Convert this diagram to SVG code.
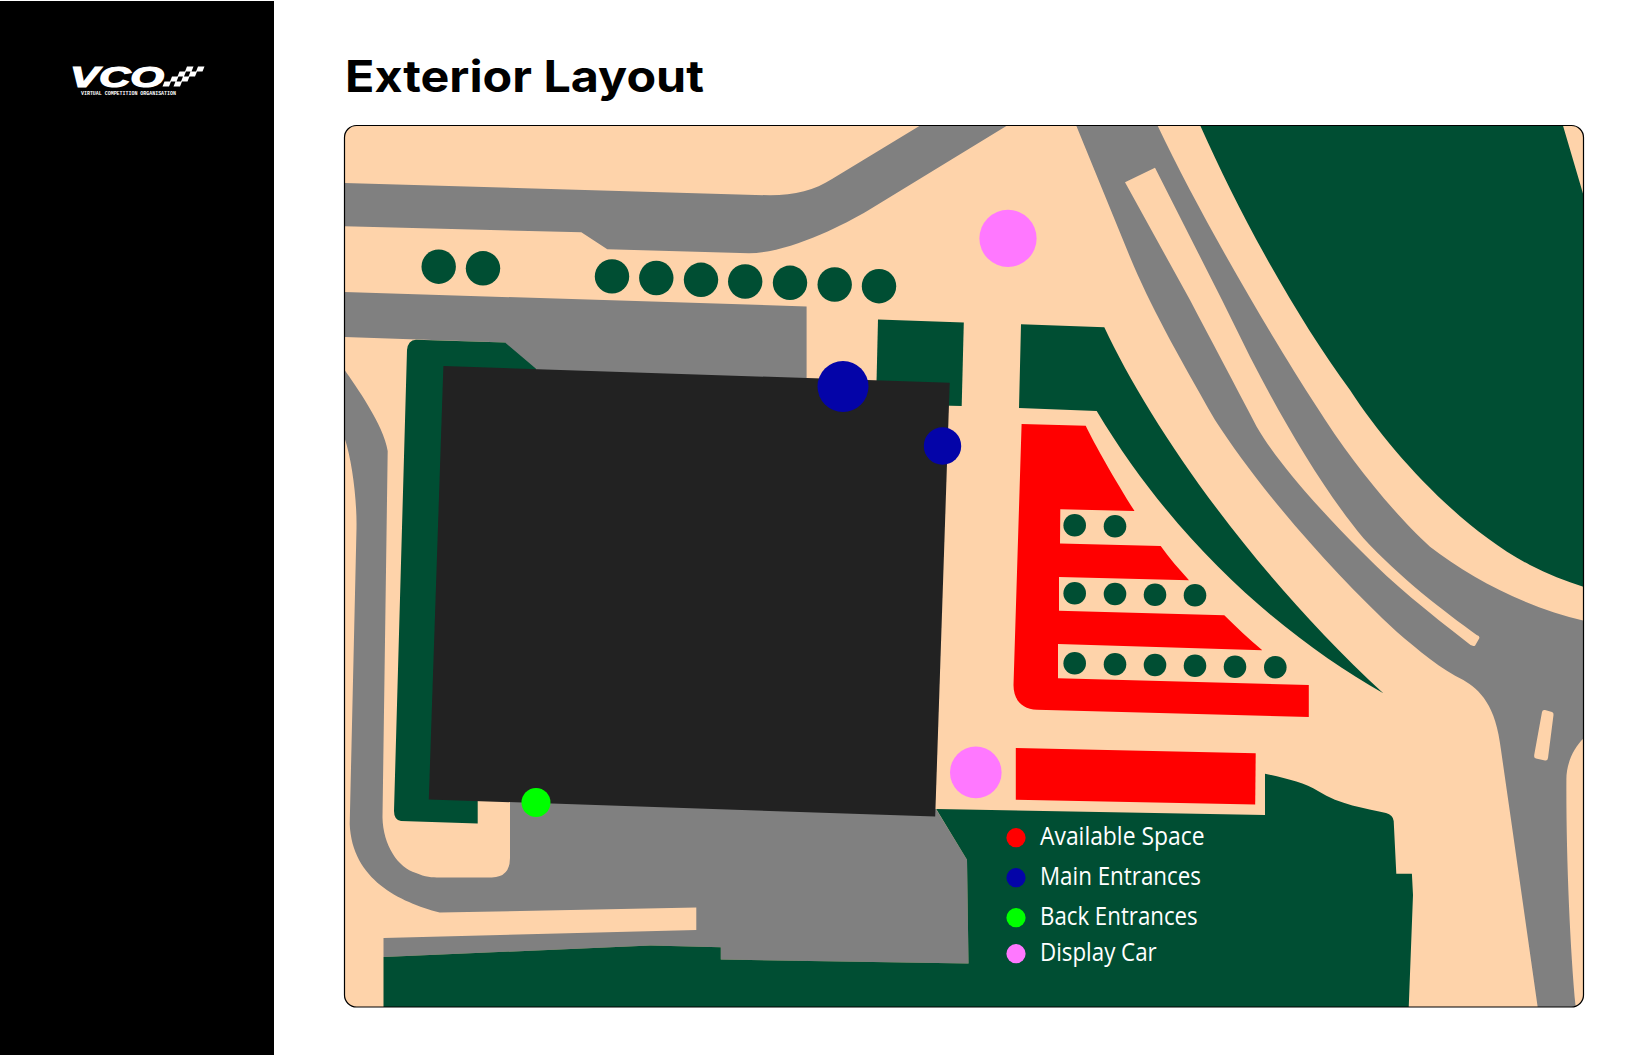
<svg xmlns="http://www.w3.org/2000/svg" width="1632" height="1056" viewBox="0 0 1632 1056">
  <style>
    .peach{fill:#fed3aa}.road{fill:#808080}.green{fill:#004e33}.red{fill:#ff0000}.blue{fill:#0404a8}.lime{fill:#00ff00}.pink{fill:#ff78ff}
    .legend{font-family:"Open Sans","Liberation Sans",sans-serif;font-size:25.500px;fill:#fff}
  </style>
  <defs><clipPath id="panelClip"><rect x="344.500" y="125.500" width="1239" height="881.500" rx="12"/></clipPath></defs>
  <rect width="1632" height="1056" fill="#fff"/>
  <rect id="sidebar" x="0" y="1" width="274" height="1054" fill="#000"/>
  <g id="logo" fill="#fff">
    <text x="70" y="86.500" font-family="'Liberation Sans',sans-serif" font-weight="700" font-style="italic" font-size="29" textLength="94" lengthAdjust="spacingAndGlyphs" stroke="#fff" stroke-width="1.200">VCO</text>
    <text x="81" y="94.500" font-family="'Liberation Mono',monospace" font-weight="700" font-size="5" textLength="95" lengthAdjust="spacing">VIRTUAL COMPETITION ORGANISATION</text>
    <path d="M187 66.500h6.500l-2 5h-6.500zM198 66.500h6.500l-2 5h-6.500zM179.500 71.500h6.500l-2 5h-6.500zM190.500 71.500h6.500l-2 5h-6.500zM172 76.500h6.500l-2 5h-6.500zM183 76.500h6.500l-2 5h-6.500zM164.500 81.500h6.500l-2 5h-6.500zM175.500 81.500h6.500l-2 5h-6.500z"/>
  </g>
  <text id="title" x="345" y="91.500" font-family="Inter,'Liberation Sans',sans-serif" font-weight="700" font-size="44" textLength="359" lengthAdjust="spacingAndGlyphs" fill="#000">Exterior Layout</text>
  <g id="site" clip-path="url(#panelClip)">
    <rect class="peach" x="344" y="125" width="1240" height="883"/>
    <path id="road-top" class="road" d="M344.500 183L770 195.300C795 195 815 190 832 179L921 125L1008 125L868 210.400C842 226 787 253 749 253.200L607.300 249.200L581.300 232.300L344.500 226.300Z"/>
    <path id="road-mid" class="road" d="M344.500 292L806.600 306.400L806.600 390L505 380L505 342.400L344.500 337Z"/>
    <path id="road-south" class="road" d="M344.500 369.700C355 385 384 425 387.700 451L382.500 817.600C383 845 398 868 416 873C425 877 432 877.500 439.700 877.500L491.800 877.500Q510 877 510 858L510 790L936 809L967 859.700L968.500 963.400L720.800 959.600L720.800 947.200L650.500 945.500L383.500 957L383.500 938L696.300 930L696.300 907.500L439.700 912.500C400 902 352 880 349.700 824L356.500 528C357 500 352 460 344.500 437.700Z"/>
    <path id="road-east" class="road" d="M1076 125L1130 257C1150 305 1175 350 1215 420C1260 490 1335 575 1396.700 631.700C1418 650 1442 670 1463.300 680C1480 690 1496 705 1501 750L1510.700 817.600L1537.800 1008L1575.800 1008C1570 950 1566 850 1566.400 780.500C1566 765 1573 748 1584 738L1584 620.700C1530 609 1470 578 1430 546.700C1395 515 1350 460 1316.700 406.700C1270 335 1200 215 1157.300 125Z"/>
    <path id="island-long" class="peach" d="M1155 167.700L1125 182.300L1190 300C1210 338 1235 385 1256.700 426.700C1275 458 1310 500 1363.300 553.300C1392 583 1428 612 1468.300 643.300Q1472 647 1475 645.700L1479.300 638.300Q1480 636 1476.700 635C1445 612 1400 578 1363.300 538C1325 492 1285 425 1250 356.700L1222 300Z"/>
    <path id="island-small" class="peach" d="M1542 712Q1542.500 709.500 1545 710L1552 712Q1553.800 712.500 1553.500 715L1548 758Q1547.500 761 1545 760.500L1536 758.500Q1533.800 758 1534.200 755Z"/>
    <path id="green-ne" class="green" d="M1200 125C1240 215 1295 315 1350 390C1390 452 1462 530 1530 565C1548 574 1565 581 1584 587L1584 197L1562.800 125Z"/>
    <path id="green-strip" class="green" d="M1021 324.200L1104.300 327.300C1150 425 1250 570 1383.300 693.300C1290 640 1180 550 1096.700 411L1019 408Z"/>
    <path id="green-block" class="green" d="M878 319.500L963.800 322.600L961.700 406L876 404Z"/>
    <path id="green-west" class="green" d="M416 339.700L505 342.400L536 368.700L536 500L477.700 700L477.700 823.600L401 821Q394 820 394 811L407 350Q408 340 416 339.700Z"/>
    <path id="green-south" class="green" d="M383.500 957L650.500 945.500L720.800 947.200L720.800 959.600L968.500 963.400L967 859.700L936.200 809L1265 815L1265 773.800C1285 778 1305 783 1318 791C1340 805 1365 808 1386 813Q1393 815 1393.700 821L1396.300 873.800L1411.900 873.800L1413 895L1408.700 1008L383.500 1008Z"/>
    <path id="building" fill="#222222" d="M443.400 366L949.700 382.800L935.200 816.600L428.800 799.400Z"/>
    <path id="parking-main" class="red" d="M1021.600 423.900L1085.700 425.700C1095 445 1115 480 1134.500 511L1060.300 509.300L1060 543.500L1160.700 546C1169 558 1179 569 1189 580.300L1059 577L1059 610.700L1224.300 615.300C1236 627 1249 639 1262.300 650.300L1058 644L1058 678.300L1308.800 685L1308.800 716.900L1037 709.800C1022 709 1013.500 700 1013.500 685Z"/>
    <path id="parking-south" class="red" d="M1015.800 747.900L1255.700 753.300L1255.200 804.400L1015.800 799.700Z"/>
    <g id="trees" class="green">
      <circle cx="438.700" cy="266.700" r="17.200"/><circle cx="483" cy="268.300" r="17.200"/>
      <circle cx="612" cy="276.400" r="17.200"/><circle cx="656.300" cy="278" r="17.200"/><circle cx="701" cy="279.800" r="17.200"/><circle cx="745.200" cy="281.500" r="17.200"/><circle cx="790" cy="282.800" r="17.200"/><circle cx="834.700" cy="284.500" r="17.200"/><circle cx="879" cy="286.200" r="17.200"/>
      <circle cx="1074.700" cy="525.300" r="11.300"/><circle cx="1115" cy="526.300" r="11.300"/>
      <circle cx="1074.700" cy="593.300" r="11.300"/><circle cx="1115" cy="594" r="11.300"/><circle cx="1155" cy="594.700" r="11.300"/><circle cx="1195" cy="595.300" r="11.300"/>
      <circle cx="1074.700" cy="663.300" r="11.300"/><circle cx="1115" cy="664.300" r="11.300"/><circle cx="1155" cy="665" r="11.300"/><circle cx="1195" cy="665.700" r="11.300"/><circle cx="1235" cy="666.700" r="11.300"/><circle cx="1275.300" cy="667.300" r="11.300"/>
    </g>
    <circle id="display-car-1" class="pink" cx="1008" cy="238.400" r="28.600"/>
    <circle id="display-car-2" class="pink" cx="975.800" cy="772.400" r="25.800"/>
    <circle id="main-entrance-1" class="blue" cx="843" cy="386.500" r="25.500"/>
    <circle id="main-entrance-2" class="blue" cx="942.500" cy="446" r="18.700"/>
    <circle id="back-entrance" class="lime" cx="536" cy="802.400" r="14.500"/>
  </g>
  <rect id="panel" x="344.500" y="125.500" width="1239" height="881.500" rx="12" fill="none" stroke="#000" stroke-width="1.200"/>
  <g id="legend">
    <circle class="red" cx="1016" cy="837.700" r="9.600"/>
    <text class="legend" x="1040" y="845" textLength="164.500" lengthAdjust="spacingAndGlyphs">Available Space</text>
    <circle class="blue" cx="1016" cy="877.700" r="9.600"/>
    <text class="legend" x="1040" y="885.300" textLength="161" lengthAdjust="spacingAndGlyphs">Main Entrances</text>
    <circle class="lime" cx="1016" cy="917.700" r="9.600"/>
    <text class="legend" x="1040" y="925" textLength="157.700" lengthAdjust="spacingAndGlyphs">Back Entrances</text>
    <circle class="pink" cx="1016" cy="953.700" r="9.600"/>
    <text class="legend" x="1040" y="961" textLength="116.700" lengthAdjust="spacingAndGlyphs">Display Car</text>
  </g>
</svg>
